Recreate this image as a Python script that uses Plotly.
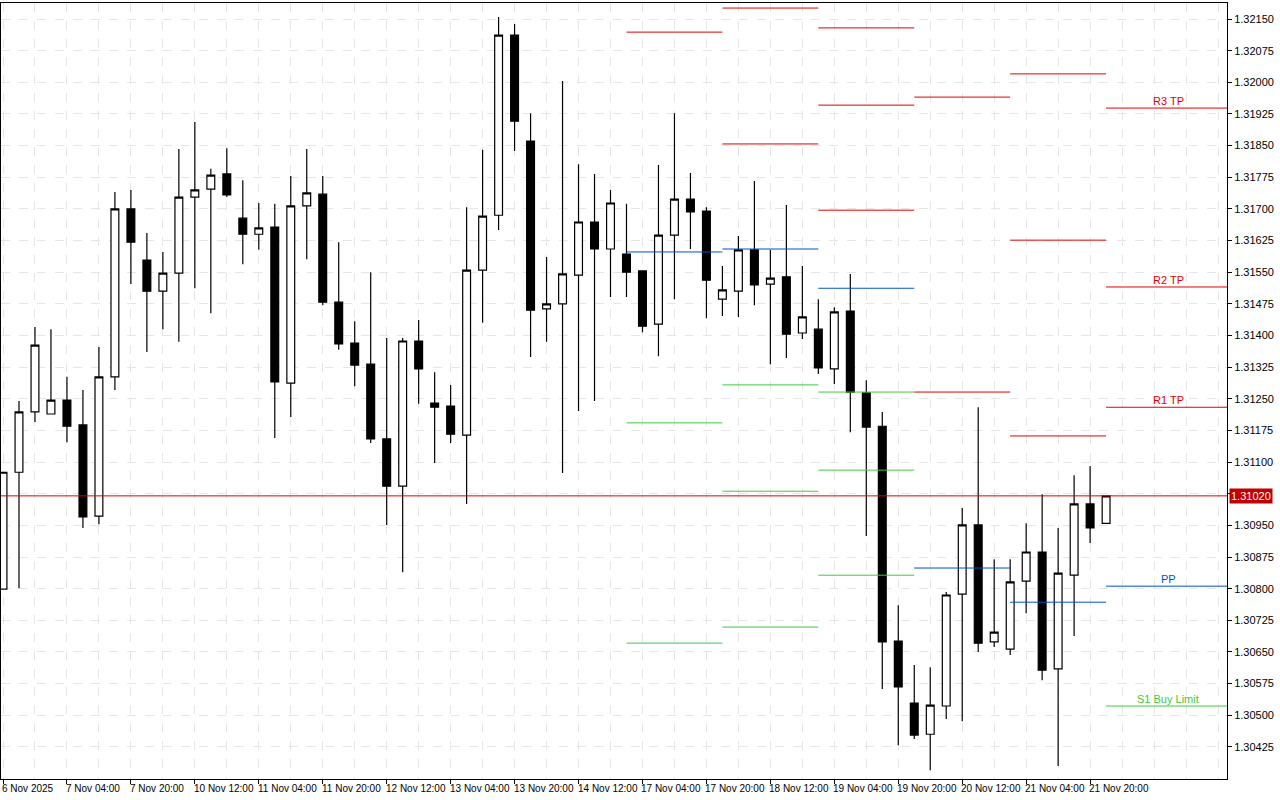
import plotly.graph_objects as go

# 4H candles, bar 0 = 6 Nov 2025 12:00
opens = [1.30799, 1.31076, 1.31219, 1.31214, 1.31247, 1.31188, 1.30972, 1.31302, 1.31700, 1.31579,
         1.31505, 1.31548, 1.31728, 1.31747, 1.31783, 1.31678, 1.31640, 1.31657, 1.31287, 1.31707,
         1.31735, 1.31479, 1.31382, 1.31332, 1.31155, 1.31043, 1.31387, 1.31240, 1.31233, 1.31164,
         1.31555, 1.31685, 1.32112, 1.31861, 1.31463, 1.31475, 1.31543, 1.31669, 1.31605, 1.31593,
         1.31553, 1.31427, 1.31638, 1.31723, 1.31695, 1.31486, 1.31505, 1.31603, 1.31522, 1.31539,
         1.31406, 1.31415, 1.31321, 1.31458, 1.31264, 1.31185, 1.30676, 1.30529, 1.30455, 1.30522,
         1.30787, 1.30951, 1.30674, 1.30657, 1.30818, 1.30887, 1.30610, 1.30832, 1.31001, 1.30955]
highs = [1.31076, 1.31245, 1.31420, 1.31415, 1.31302, 1.31271, 1.31373, 1.31740, 1.31745, 1.31643,
         1.31598, 1.31842, 1.31906, 1.31795, 1.31844, 1.31768, 1.31714, 1.31712, 1.31778, 1.31842,
         1.31778, 1.31621, 1.31434, 1.31550, 1.31394, 1.31394, 1.31437, 1.31313, 1.31283, 1.31704,
         1.31840, 1.32155, 1.32138, 1.31927, 1.31586, 1.32003, 1.31806, 1.31783, 1.31745, 1.31712,
         1.31553, 1.31804, 1.31927, 1.31785, 1.31704, 1.31565, 1.31636, 1.31766, 1.31603, 1.31709,
         1.31565, 1.31486, 1.31467, 1.31546, 1.31294, 1.31219, 1.30761, 1.30619, 1.30614, 1.30792,
         1.30991, 1.31230, 1.30870, 1.30870, 1.30955, 1.31024, 1.30944, 1.31069, 1.31091, 1.31020]
lows = [1.30799, 1.30801, 1.31195, 1.31214, 1.31147, 1.30944, 1.30953, 1.31271, 1.31522, 1.31361,
        1.31415, 1.31385, 1.31512, 1.31453, 1.31728, 1.31569, 1.31603, 1.31157, 1.31207, 1.31581,
        1.31472, 1.31366, 1.31280, 1.31145, 1.30951, 1.30839, 1.31238, 1.31098, 1.31145, 1.31001,
        1.31430, 1.31650, 1.31837, 1.31349, 1.31385, 1.31074, 1.31221, 1.31245, 1.31491, 1.31491,
        1.31408, 1.31351, 1.31486, 1.31605, 1.31441, 1.31446, 1.31444, 1.31472, 1.31332, 1.31347,
        1.31392, 1.31309, 1.31285, 1.31171, 1.30925, 1.30562, 1.30429, 1.30444, 1.30370, 1.30491,
        1.30486, 1.30650, 1.30662, 1.30643, 1.30742, 1.30583, 1.30380, 1.30688, 1.30908, 1.30955]
closes = [1.31076, 1.31219, 1.31377, 1.31247, 1.31185, 1.30970, 1.31302, 1.31700, 1.31621, 1.31505,
          1.31548, 1.31728, 1.31745, 1.31780, 1.31733, 1.31640, 1.31655, 1.31290, 1.31707, 1.31738,
          1.31479, 1.31380, 1.31330, 1.31155, 1.31043, 1.31387, 1.31321, 1.31230, 1.31166, 1.31555,
          1.31683, 1.32112, 1.31908, 1.31460, 1.31475, 1.31546, 1.31669, 1.31605, 1.31714, 1.31550,
          1.31422, 1.31638, 1.31723, 1.31693, 1.31531, 1.31508, 1.31603, 1.31520, 1.31536, 1.31403,
          1.31444, 1.31323, 1.31456, 1.31266, 1.31183, 1.30674, 1.30567, 1.30453, 1.30524, 1.30785,
          1.30951, 1.30671, 1.30697, 1.30816, 1.30887, 1.30607, 1.30837, 1.31001, 1.30944, 1.31020]

time_labels = ["6 Nov 2025", "7 Nov 04:00", "7 Nov 20:00", "10 Nov 12:00", "11 Nov 04:00",
               "11 Nov 20:00", "12 Nov 12:00", "13 Nov 04:00", "13 Nov 20:00", "14 Nov 12:00",
               "17 Nov 04:00", "17 Nov 20:00", "18 Nov 12:00", "19 Nov 04:00", "19 Nov 20:00",
               "20 Nov 12:00", "21 Nov 04:00", "21 Nov 20:00"]

# daily pivot segments: start bar, resistances, pivot, supports
day_start = [39, 45, 51, 57, 63]
day_res = [[1.32119], [1.32176, 1.31854], [1.32129, 1.31946, 1.31697], [1.31965, 1.31266],
           [1.32020, 1.31626, 1.31162]]
day_pp = [1.31598, 1.31605, 1.31512, 1.30849, 1.30768]
day_sup = [[1.31193, 1.30671], [1.31283, 1.31031, 1.30709], [1.31266, 1.31081, 1.30832], [], []]

# current day levels with labels
cur_names = ["R3 TP", "R2 TP", "R1 TP", "PP", "S1 Buy Limit"]
cur_levels = [1.31939, 1.31515, 1.31230, 1.30806, 1.30522]
last_price = 1.31020

RED, BLUE, GREEN = "#e00000", "#0050d0", "#40c840"
FONT = "Liberation Sans"
n = len(opens)
x = list(range(n))
x_end = -0.125 + 1227 / 16

fig = go.Figure()
fig.add_trace(go.Candlestick(
    x=x, open=opens, high=highs, low=lows, close=closes,
    increasing=dict(line=dict(color="black", width=1.2), fillcolor="white"),
    decreasing=dict(line=dict(color="black", width=1.2), fillcolor="black"),
    whiskerwidth=0, showlegend=False,
))

def seg(x0, x1, y, color):
    fig.add_shape(type="line", x0=x0, x1=x1, y0=y, y1=y, xref="x", yref="y",
                  line=dict(color=color, width=1))

for k, s in enumerate(day_start):
    e = s + 6
    for r in day_res[k]:
        seg(s, e, r, RED)
    seg(s, e, day_pp[k], BLUE)
    for sp in day_sup[k]:
        seg(s, e, sp, GREEN)

cur_colors = [RED, RED, RED, BLUE, GREEN]
for name, lvl, c in zip(cur_names, cur_levels, cur_colors):
    seg(69, x_end, lvl, c)
    fig.add_annotation(x=72.9, y=lvl, text=name, showarrow=False, yshift=7,
                       font=dict(size=11, color=c, family=FONT))

fig.add_shape(type="line", x0=-1, x1=x_end, y0=last_price, y1=last_price,
              xref="x", yref="y", line=dict(color=RED, width=1))
fig.add_annotation(x=1, xref="paper", y=last_price, text="1.31020", showarrow=False,
                   xanchor="left", xshift=2, bgcolor="#c00000", borderpad=1,
                   font=dict(size=11, color="white", family=FONT))

for j, lab in enumerate(time_labels):
    fig.add_annotation(x=j * 4, y=0, yref="paper", text=lab, showarrow=False,
                       xanchor="left", yanchor="top", yshift=-2, xshift=-3,
                       font=dict(size=10, color="black", family=FONT))

yt = [1.30425 + 0.00075 * k for k in range(24)]
# the current-price tag hides the tick text next to it
ytext = ["" if abs(v - last_price) < 0.0003 else f"{v:.5f}" for v in yt]
fig.update_layout(
    width=1280, height=800, paper_bgcolor="white", plot_bgcolor="white",
    margin=dict(l=1, r=53, t=3, b=21),
    xaxis=dict(range=[-0.125, x_end], rangeslider=dict(visible=False), showticklabels=False,
               tickvals=list(range(0, n, 4)), ticks="outside", ticklen=4, tickcolor="black",
               showgrid=True, gridcolor="#e6e6e6", griddash="dash",
               minor=dict(dtick=2, tick0=0, showgrid=True, gridcolor="#e6e6e6", griddash="dash"),
               showline=True, linecolor="black", mirror=True, zeroline=False),
    yaxis=dict(range=[1.30349, 1.32188], side="right", tickvals=yt,
               ticktext=ytext, ticks="outside", ticklen=4, tickcolor="black",
               tickfont=dict(size=11, family=FONT, color="black"),
               showgrid=True, gridcolor="#e6e6e6", griddash="dash",
               showline=True, linecolor="black", mirror=True, zeroline=False),
)

fig.write_html("out.html", config={"displayModeBar": False},
               post_script="document.body.style.margin='0';")
